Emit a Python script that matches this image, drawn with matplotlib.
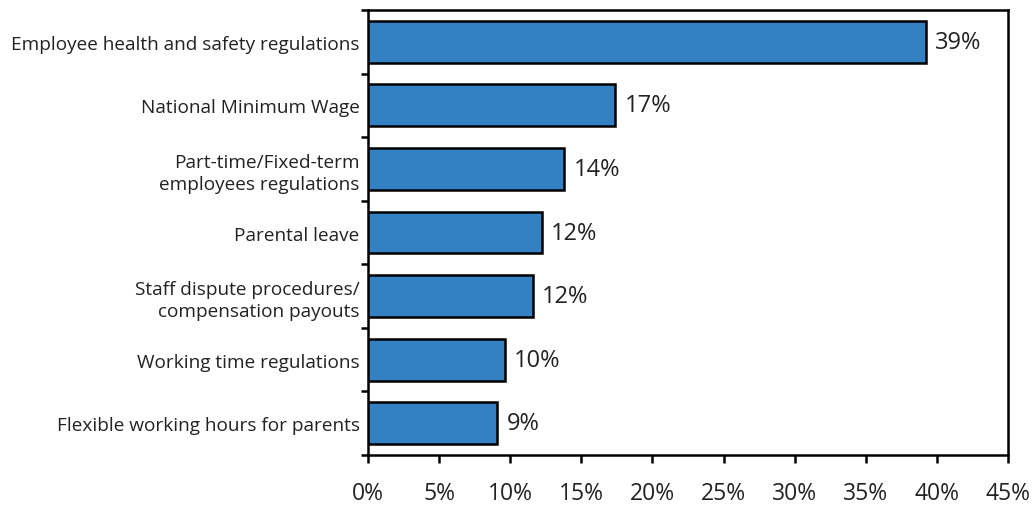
import matplotlib
matplotlib.use("Agg")
import matplotlib.pyplot as plt
import numpy as np

categories = [
    "Employee health and safety regulations",
    "National Minimum Wage",
    "Part-time/Fixed-term\nemployees regulations",
    "Parental leave",
    "Staff dispute procedures/\ncompensation payouts",
    "Working time regulations",
    "Flexible working hours for parents",
]
values = [39.2, 17.4, 13.8, 12.2, 11.6, 9.6, 9.1]
x_ticks = [0, 5, 10, 15, 20, 25, 30, 35, 40, 45]

plt.rcParams["font.family"] = ["Open Sans", "DejaVu Sans"]

fig = plt.figure(figsize=(10.36, 5.06), dpi=100)
ax = fig.add_axes([368 / 1036, 1 - 456 / 506, 640 / 1036, 445 / 506])

n = len(categories)
ypos = np.arange(n)
ax.barh(ypos, values, height=0.66, color="#3380C2", edgecolor="black",
        linewidth=1.8, zorder=3)

for y, v in zip(ypos, values):
    ax.text(v + 0.65, y, f"{v:.0f}%", va="center", ha="left",
            fontsize=17, color="#222222")

ax.set_xlim(0, 45)
ax.set_ylim(n - 0.5, -0.5)

ax.set_xticks(x_ticks)
ax.set_xticklabels([f"{t}%" for t in x_ticks], fontsize=16.5, color="#222222")
ax.tick_params(axis="x", direction="out", length=6, width=1.8, pad=13)

ax.set_yticks(ypos)
ax.set_yticklabels(categories, fontsize=13.7, color="#222222", linespacing=1.3)
ax.tick_params(axis="y", which="major", length=0, pad=6)
ax.set_yticks(np.arange(n + 1) - 0.5, minor=True)
ax.tick_params(axis="y", which="minor", direction="out", length=5, width=1.8)

for side in ["top", "right", "bottom", "left"]:
    ax.spines[side].set_linewidth(1.8)
    ax.spines[side].set_color("black")

fig.savefig("out.png", dpi=100)
